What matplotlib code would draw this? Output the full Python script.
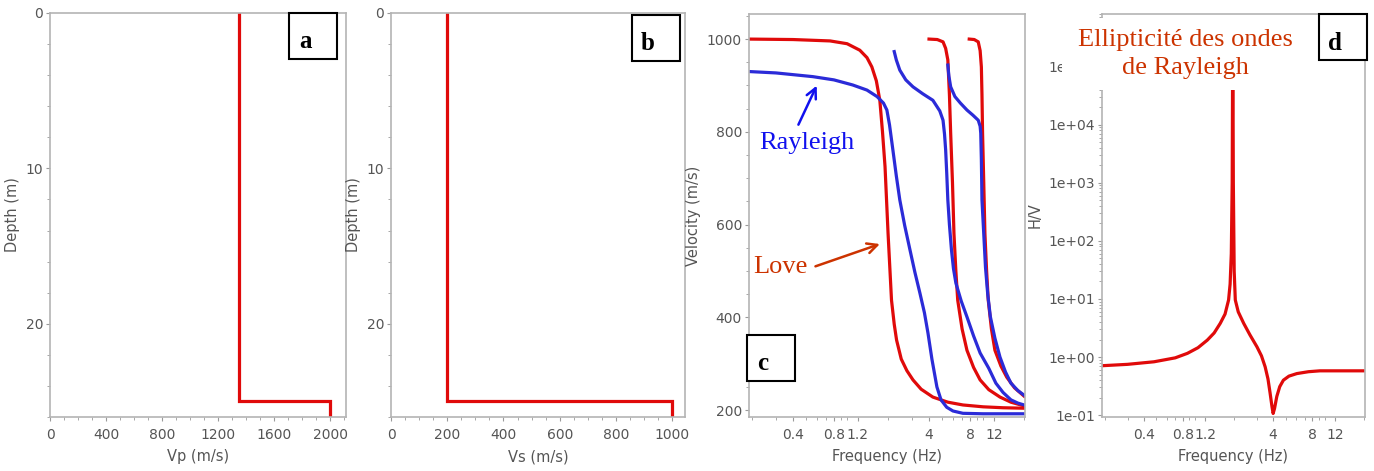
import matplotlib
matplotlib.use("Agg")
import matplotlib.pyplot as plt
from matplotlib.patches import Rectangle
from matplotlib.ticker import MultipleLocator, FixedLocator, LogLocator, NullFormatter, FuncFormatter

# ground model: one layer (25 m) over a half-space
depth = [0, 25, 25, 26]
vp_profile = [1350, 1350, 2000, 2000]
vs_profile = [200, 200, 1000, 1000]

# dispersion curves (frequency in Hz, velocity in m/s)
love0_f = [0.19, 0.4, 0.75, 1.0, 1.24, 1.4, 1.52, 1.64, 1.74, 1.82, 1.90, 2.0, 2.12, 2.22, 2.31, 2.5, 2.75, 3.05, 3.5, 4.27, 5.5, 7.1, 10, 14, 20]
love0_v = [1000, 999, 996, 990, 976, 960, 940, 910, 868, 800, 725, 581, 437, 385, 351, 310, 285, 265, 245, 228, 217, 211, 207, 205, 204]
love1_f = [4.0, 4.6, 5.07, 5.3, 5.5, 5.65, 5.77, 5.95, 6.1, 6.3, 6.5, 7.0, 7.6, 8.5, 9.5, 11, 13.3, 16, 20]
love1_v = [1000, 999, 994, 980, 955, 880, 797, 690, 581, 500, 437, 375, 329, 292, 265, 244, 228, 217, 209]
love2_f = [7.9, 8.6, 9.2, 9.5, 9.7, 9.8, 9.9, 10.1, 10.3, 10.6, 10.9, 11.5, 12.2, 13.5, 14.9, 17, 20]
love2_v = [1000, 999, 994, 975, 940, 880, 797, 690, 581, 500, 437, 375, 329, 295, 271, 248, 230]

ray0_f = [0.19, 0.3, 0.56, 0.8, 1.10, 1.4, 1.66, 1.85, 1.96, 2.05, 2.17, 2.3, 2.44, 2.65, 2.9, 3.15, 3.43, 3.7, 3.93, 4.2, 4.57, 4.9, 5.4, 6.0, 7.1, 10, 20]
ray0_v = [930, 927, 919, 912, 901, 890, 876, 862, 847, 815, 761, 705, 653, 598, 545, 497, 452, 410, 366, 310, 250, 222, 206, 198, 193, 192, 192]
ray1_f = [2.22, 2.3, 2.44, 2.7, 3.05, 3.6, 4.27, 4.8, 5.07, 5.2, 5.3, 5.4, 5.5, 5.65, 5.85, 6.05, 6.3, 6.9, 7.6, 8.5, 9.5, 11, 12.4, 14, 16, 18, 20]
ray1_v = [973, 955, 933, 912, 897, 882, 868, 845, 825, 795, 761, 710, 653, 600, 545, 505, 474, 435, 401, 360, 323, 290, 258, 238, 222, 215, 211]
ray2_f = [5.5, 5.6, 5.77, 6.2, 6.8, 7.6, 8.4, 9.2, 9.5, 9.6, 9.7, 9.8, 10.1, 10.4, 10.8, 11.3, 12.2, 13.3, 14.6, 16, 18, 20]
ray2_v = [944, 920, 897, 876, 862, 847, 836, 825, 812, 797, 740, 653, 580, 508, 450, 401, 355, 314, 282, 258, 242, 232]

# Rayleigh ellipticity (H/V)
hv_f = [0.19, 0.3, 0.48, 0.7, 0.87, 1.05, 1.24, 1.4, 1.56, 1.7, 1.81, 1.86, 1.9, 1.93, 1.95, 1.97, 2.0, 2.04, 2.15, 2.37, 2.65, 3.0, 3.25, 3.47, 3.65, 3.79, 3.92, 4.0, 4.1, 4.27, 4.5, 4.8, 5.3, 6.1, 7.5, 9.2, 13, 20]
hv_v = [0.71, 0.75, 0.83, 0.97, 1.16, 1.45, 1.96, 2.6, 3.8, 5.5, 9.6, 18, 60, 1000, 5e5, 1000, 30, 9.6, 6.0, 3.8, 2.4, 1.5, 1.05, 0.68, 0.42, 0.24, 0.14, 0.107, 0.13, 0.21, 0.31, 0.4, 0.47, 0.52, 0.56, 0.58, 0.58, 0.58]

freq_ticks = [0.4, 0.8, 1.2, 4, 8, 12]
freq_labels = ["0.4", "0.8", "1.2", "4", "8", "12"]
hv_ticks = [0.1, 1, 10, 100, 1e3, 1e4, 1e5]

RED = "#e00a0a"
BLUE = "#2b2bd8"
ORANGE = "#cc3300"
LW = 2.3

plt.rcParams["font.family"] = "DejaVu Sans"
plt.rcParams["font.size"] = 10

fig = plt.figure(figsize=(13.74, 4.71), dpi=100)


def style(ax):
    for s in ax.spines.values():
        s.set_color("#b4b4b4")
        s.set_linewidth(1.2)
    ax.tick_params(which="both", direction="out", colors="#9a9a9a", labelcolor="#555555", labelsize=10)
    ax.tick_params(which="major", length=3)
    ax.tick_params(which="minor", length=2)
    ax.tick_params(axis="y", pad=2)
    ax.tick_params(axis="x", pad=5)
    ax.xaxis.label.set_color("#555555")
    ax.yaxis.label.set_color("#555555")
    ax.xaxis.label.set_fontsize(10.5)
    ax.yaxis.label.set_fontsize(10.5)


ax_a = fig.add_axes([0.0364, 0.1146, 0.2154, 0.8578])
ax_a.plot(vp_profile, depth, color=RED, lw=LW, solid_joinstyle="miter")
ax_a.set_xlim(0, 2112)
ax_a.set_ylim(26, 0)
ax_a.xaxis.set_major_locator(MultipleLocator(400))
ax_a.xaxis.set_minor_locator(MultipleLocator(100))
ax_a.yaxis.set_major_locator(MultipleLocator(10))
ax_a.yaxis.set_minor_locator(MultipleLocator(2))
ax_a.set_xlabel("Vp (m/s)", labelpad=5)
ax_a.set_ylabel("Depth (m)", labelpad=4)
style(ax_a)

ax_b = fig.add_axes([0.2846, 0.1146, 0.2140, 0.8578])
ax_b.plot(vs_profile, depth, color=RED, lw=LW, solid_joinstyle="miter")
ax_b.set_xlim(0, 1046)
ax_b.set_ylim(26, 0)
ax_b.xaxis.set_major_locator(MultipleLocator(200))
ax_b.xaxis.set_minor_locator(MultipleLocator(50))
ax_b.yaxis.set_major_locator(MultipleLocator(10))
ax_b.yaxis.set_minor_locator(MultipleLocator(2))
ax_b.set_xlabel("Vs (m/s)", labelpad=5)
ax_b.set_ylabel("Depth (m)", labelpad=4)
style(ax_b)

ax_c = fig.add_axes([0.5451, 0.1146, 0.2009, 0.8556])
for f, v in [(love0_f, love0_v), (love1_f, love1_v), (love2_f, love2_v)]:
    ax_c.plot(f, v, color=RED, lw=LW)
for f, v in [(ray0_f, ray0_v), (ray1_f, ray1_v), (ray2_f, ray2_v)]:
    ax_c.plot(f, v, color=BLUE, lw=LW)
ax_c.set_xscale("log")
ax_c.set_xlim(0.19, 20.3)
ax_c.set_ylim(185, 1054)
ax_c.xaxis.set_major_locator(FixedLocator(freq_ticks))
ax_c.set_xticklabels(freq_labels)
ax_c.xaxis.set_minor_locator(LogLocator(subs="all", numticks=20))
ax_c.xaxis.set_minor_formatter(NullFormatter())
ax_c.yaxis.set_major_locator(MultipleLocator(200))
ax_c.yaxis.set_minor_locator(MultipleLocator(50))
ax_c.set_xlabel("Frequency (Hz)", labelpad=5)
ax_c.set_ylabel("Velocity (m/s)", labelpad=4)
style(ax_c)

ax_c.text(0.225, 776, "Rayleigh", color="#1010ee", family="Liberation Serif", fontsize=19, va="center")
ax_c.annotate("", xy=(0.61, 905), xytext=(0.43, 810),
              arrowprops=dict(arrowstyle="->", color="#1010ee", lw=1.8, mutation_scale=18))
ax_c.text(0.203, 508, "Love", color=ORANGE, family="Liberation Serif", fontsize=19, va="center",
          bbox=dict(facecolor="white", edgecolor="none", pad=1), clip_on=False)
ax_c.annotate("", xy=(1.82, 560), xytext=(0.56, 508),
              arrowprops=dict(arrowstyle="->", color=ORANGE, lw=1.8, mutation_scale=18))

ax_d = fig.add_axes([0.8020, 0.1146, 0.1914, 0.8556])
ax_d.plot(hv_f, hv_v, color=RED, lw=LW)
ax_d.set_xscale("log")
ax_d.set_yscale("log")
ax_d.set_xlim(0.19, 20.5)
ax_d.set_ylim(0.093, 8e5)
ax_d.xaxis.set_major_locator(FixedLocator(freq_ticks))
ax_d.set_xticklabels(freq_labels)
ax_d.xaxis.set_minor_locator(LogLocator(subs="all", numticks=20))
ax_d.xaxis.set_minor_formatter(NullFormatter())
ax_d.yaxis.set_major_locator(FixedLocator(hv_ticks))
ax_d.yaxis.set_major_formatter(FuncFormatter(lambda y, p: "%.0e" % y))
ax_d.yaxis.set_minor_locator(LogLocator(subs="all", numticks=20))
ax_d.yaxis.set_minor_formatter(NullFormatter())
ax_d.set_xlabel("Frequency (Hz)", labelpad=5)
ax_d.set_ylabel("H/V", labelpad=4)
style(ax_d)

# white box with the ellipticity title
W, H = 1374.0, 471.0
fig.patches.append(Rectangle((1062 / W, 1 - 90 / H), 235 / W, 72 / H, transform=fig.transFigure,
                             facecolor="white", edgecolor="none", zorder=1))
fig.text(1185 / W, 1 - 54 / H, "Ellipticité des ondes\nde Rayleigh", color=ORANGE,
         family="Liberation Serif", fontsize=19, ha="center", va="center", linespacing=1.35, zorder=4)

# panel letters
for letter, x0, y0 in [("a", 289, 13), ("b", 632, 15), ("c", 747, 335), ("d", 1319, 14)]:
    fig.patches.append(Rectangle((x0 / W, 1 - (y0 + 46) / H), 48 / W, 46 / H, transform=fig.transFigure,
                                 facecolor="white", edgecolor="black", lw=1.5, zorder=1))
    fig.text((x0 + 16) / W, 1 - (y0 + 29) / H, letter, family="Liberation Serif", fontweight="bold",
             fontsize=18, ha="center", va="center", zorder=4)

fig.savefig("out.png", dpi=100)
